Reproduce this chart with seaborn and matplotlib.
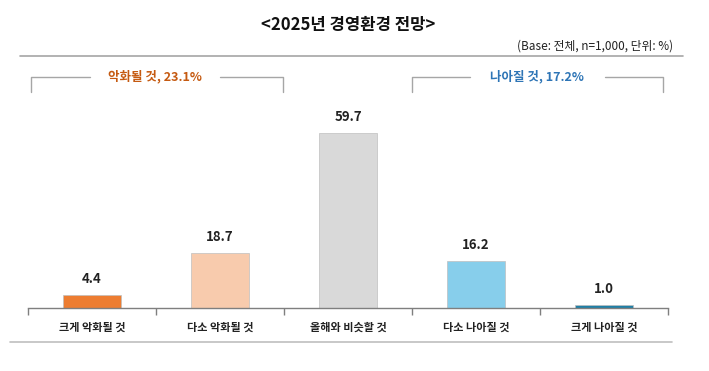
import seaborn as sns
import matplotlib.pyplot as plt
import pandas as pd
from matplotlib.lines import Line2D

sns.set_theme(style="white")
plt.rcParams['font.family'] = ['Noto Sans CJK KR', 'DejaVu Sans']

categories = ["크게 악화될 것", "다소 악화될 것", "올해와 비슷할 것", "다소 나아질 것", "크게 나아질 것"]
values = [4.4, 18.7, 59.7, 16.2, 1.0]
colors = ["#ED7D31", "#F8CBAD", "#D9D9D9", "#87CEEB", "#1F7FA6"]
worse_label = "악화될 것, 23.1%"
better_label = "나아질 것, 17.2%"

df = pd.DataFrame({"cat": categories, "val": values})

fig = plt.figure(figsize=(7.09, 3.71), dpi=100)
ax = fig.add_axes([28 / 709, 63 / 371, 640 / 709, 208 / 371])

sns.barplot(data=df, x="cat", y="val", hue="cat", palette=colors, width=0.45,
            saturation=1, legend=False, ax=ax, edgecolor="#BFBFBF", linewidth=0.5)

for i, v in enumerate(values):
    ax.text(i, v + 3, f"{v:.1f}", ha="center", va="bottom", fontsize=9.5,
            fontweight="bold", color="#222222")

ax.set_xlim(-0.5, 4.5)
ax.set_ylim(0, 71)
ax.set_yticks([])
ax.set_xlabel("")
ax.set_ylabel("")
for s in ["top", "left", "right"]:
    ax.spines[s].set_visible(False)
ax.spines["bottom"].set_color("#7F7F7F")
ax.spines["bottom"].set_linewidth(1)
ax.set_xticks(range(5))
ax.set_xticklabels(categories, fontsize=8, fontweight="bold", color="#222222")
ax.set_xticks([-0.5, 0.5, 1.5, 2.5, 3.5, 4.5], minor=True)
ax.tick_params(axis="x", which="major", length=0, pad=9)
ax.tick_params(axis="x", which="minor", length=5, width=1, color="#7F7F7F",
               direction="out", bottom=True)

W, H = 709, 371


def fline(xs, ys, color="#A6A6A6", lw=1):
    fig.add_artist(Line2D([x / W for x in xs], [1 - y / H for y in ys],
                          color=color, lw=lw, transform=fig.transFigure))


# title and base note
fig.text(348 / W, 1 - 25 / H, "<2025년 경영환경 전망>", ha="center", va="center",
         fontsize=12, fontweight="bold", color="#111111")
fig.text(673 / W, 1 - 46 / H, "(Base: 전체, n=1,000, 단위: %)", ha="right",
         va="center", fontsize=8.5, color="#222222")

# horizontal separators
fline([20, 683], [56, 56], color="#A6A6A6", lw=1.2)
fline([10, 672], [342, 342], color="#BFBFBF", lw=1.2)

# brackets
fline([31, 31, 90], [92, 77, 77])
fline([220, 283, 283], [77, 77, 92])
fig.text(155 / W, 1 - 77 / H, worse_label, ha="center", va="center",
         fontsize=9, fontweight="bold", color="#C55A11")
fline([412, 412, 470], [92, 77, 77])
fline([605, 663, 663], [77, 77, 92])
fig.text(537 / W, 1 - 77 / H, better_label, ha="center", va="center",
         fontsize=9, fontweight="bold", color="#2E75B6")

fig.savefig("out.png", dpi=100)
